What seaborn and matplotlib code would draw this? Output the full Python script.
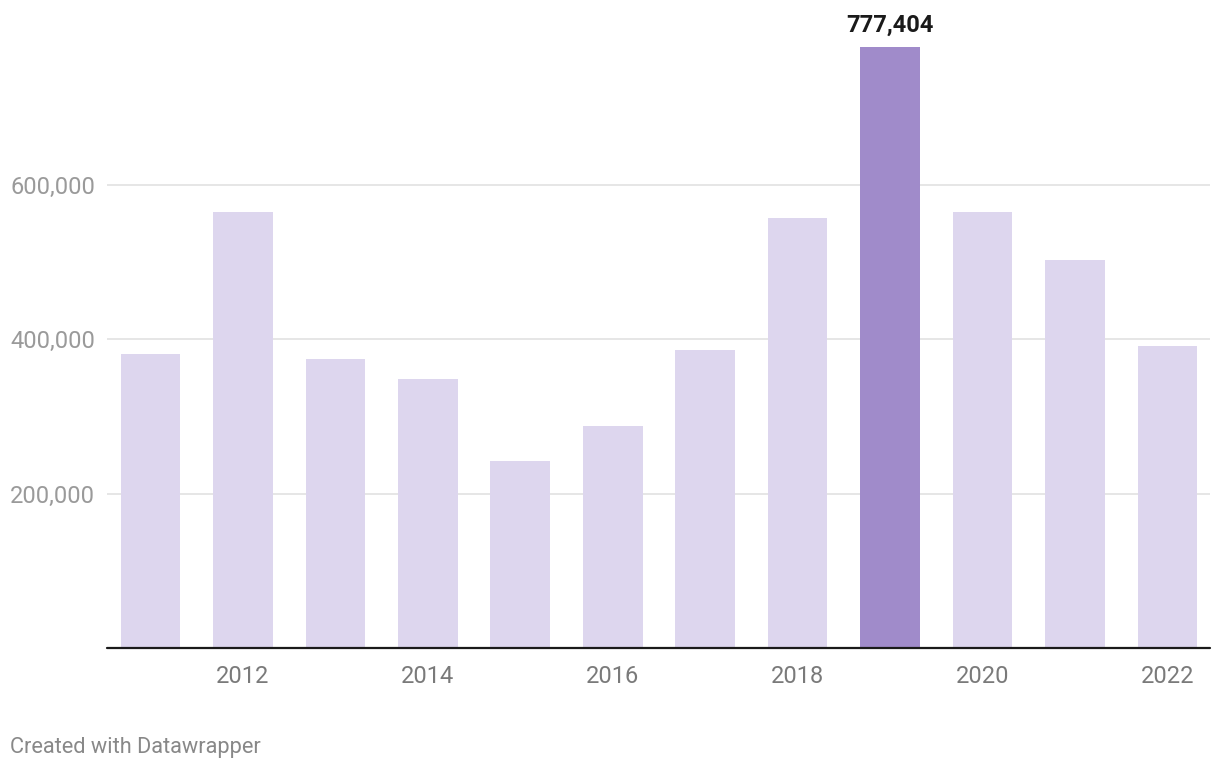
import matplotlib
matplotlib.use("Agg")
from matplotlib import pyplot as plt
from matplotlib import transforms
import seaborn as sns
import pandas as pd

# Data
years = [2011, 2012, 2013, 2014, 2015, 2016, 2017, 2018, 2019, 2020, 2021, 2022]
values = [380500, 564500, 374500, 348500, 242500, 287500, 385500, 556500, 777404, 564500, 502500, 390500]
highlight_year = 2019
y_ticks = [200000, 400000, 600000]

light = "#ddd6ee"
dark = "#a08bca"

df = pd.DataFrame({"year": [str(y) for y in years], "value": values})
colors = [dark if y == highlight_year else light for y in years]

sns.set_style("white")
plt.rcParams["font.family"] = ["Roboto", "DejaVu Sans"]

fig = plt.figure(figsize=(12.2, 7.7), dpi=100)
ax = fig.add_axes([107 / 1220, (770 - 648) / 770, 1103 / 1220, 608 / 770])

sns.barplot(data=df, x="year", y="value", hue="year", palette=colors,
            width=0.645, saturation=1, legend=False, ax=ax, zorder=2, linewidth=0)

ax.set_xlim(-0.47, 11.46)
ax.set_ylim(0, 608 / 154.5 * 200000)

# gridlines behind bars
for t in y_ticks:
    ax.axhline(t, color="#e6e6e6", lw=1.4, zorder=0)
ax.axhline(0, color="#1a1a1a", lw=1.6, zorder=3, clip_on=False)

for s in ax.spines.values():
    s.set_visible(False)

# y labels, left aligned at the figure edge
trans = transforms.blended_transform_factory(fig.transFigure, ax.transData)
for t in y_ticks:
    ax.text(10 / 1220, t, f"{t:,}", transform=trans, ha="left", va="center_baseline",
            fontsize=17, color="#9a9a9a")
ax.set_yticks([])

# only even years labelled
ticks = [i for i, y in enumerate(years) if y % 2 == 0]
ax.set_xticks(ticks)
ax.set_xticklabels([str(years[i]) for i in ticks], fontsize=17, color="#7a7a7a")
ax.tick_params(axis="x", length=0, pad=12)
ax.set_xlabel("")
ax.set_ylabel("")

# value label on the highlighted bar
hi = years.index(highlight_year)
ax.annotate(f"{values[hi]:,}", (hi, values[hi]), xytext=(0, 8), textcoords="offset points",
            ha="center", va="bottom", fontsize=17, fontweight="bold", color="#1a1a1a")

fig.text(10 / 1220, 1 - 748 / 770, "Created with Datawrapper", ha="left", va="center",
         fontsize=15.7, color="#888888")

fig.savefig("out.png", dpi=100)
plt.close()
